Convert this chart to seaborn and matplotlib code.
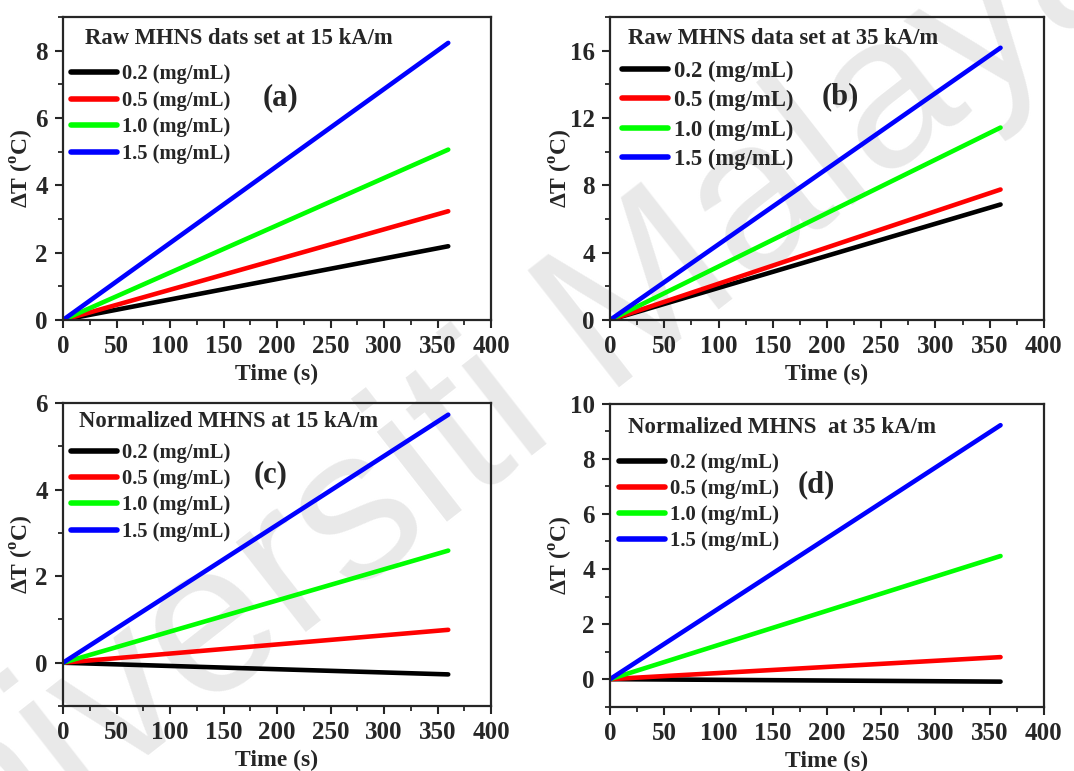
import pandas as pd
import seaborn as sns
import matplotlib
matplotlib.use("Agg")
import matplotlib.pyplot as plt
from matplotlib.ticker import MultipleLocator

# data
time_s = [0, 360]
concentrations = ["0.2 (mg/mL)", "0.5 (mg/mL)", "1.0 (mg/mL)", "1.5 (mg/mL)"]
colors = ["#000000", "#ff0000", "#00ff00", "#0000ff"]

raw_15_end = [2.19, 3.23, 5.06, 8.23]
raw_35_end = [6.86, 7.75, 11.43, 16.17]
norm_15_end = [-0.27, 0.76, 2.59, 5.73]
norm_35_end = [-0.09, 0.80, 4.47, 9.22]

titles = ["Raw MHNS dats set at 15 kA/m", "Raw MHNS data set at 35 kA/m",
          "Normalized MHNS at 15 kA/m", "Normalized MHNS  at 35 kA/m"]
panel_labels = ["(a)", "(b)", "(c)", "(d)"]
y_limits = [(0, 9), (0, 18), (-1, 6), (-1, 10)]
y_major = [2, 4, 2, 2]


def make_df(ends):
    rows = []
    for c, e in zip(concentrations, ends):
        rows.append([time_s[0], 0.0, c])
        rows.append([time_s[1], e, c])
    return pd.DataFrame(rows, columns=["time", "dT", "conc"])


sns.set_style("ticks")
plt.rcParams['font.family'] = ['Liberation Serif', 'DejaVu Serif']
plt.rcParams['font.weight'] = 'bold'
plt.rcParams['mathtext.fontset'] = 'custom'
plt.rcParams['mathtext.rm'] = 'Liberation Serif:bold'
plt.rcParams['mathtext.bf'] = 'Liberation Serif:bold'

fig = plt.figure(figsize=(10.74, 7.71), dpi=100)

# watermark
fig.text(0.44, 0.44, "Universiti Malaya", rotation=38, ha="center", va="center",
         fontsize=155, color="#e9e9e9", family="Liberation Sans", weight="normal",
         zorder=-1)

positions = [[0.0587, 0.585, 0.3985, 0.393], [0.568, 0.585, 0.404, 0.393],
             [0.0587, 0.0843, 0.3985, 0.393], [0.568, 0.0834, 0.404, 0.393]]
title_pos = [(0.051, 0.928), (0.041, 0.93), (0.038, 0.938), (0.042, 0.922)]
title_size = [16.3, 16.3, 16.3, 16.5]
label_pos = [(0.507, 0.733), (0.53, 0.737), (0.484, 0.762), (0.476, 0.733)]
legend_pos = [(0.018, 0.845), (0.028, 0.855), (0.019, 0.869), (0.021, 0.838)]
legend_size = [14.8, 16.3, 14.8, 14.9]
legend_space = [0.33, 0.36, 0.31, 0.30]
ylabel_x = [-0.064, -0.081, -0.063, -0.081]
datasets = [raw_15_end, raw_35_end, norm_15_end, norm_35_end]

for i in range(4):
    ax = fig.add_axes(positions[i])
    ax.set_facecolor("none")
    df = make_df(datasets[i])
    sns.lineplot(data=df, x="time", y="dT", hue="conc", palette=colors,
                 linewidth=3.3, ax=ax, legend=True)
    ax.set_xlim(0, 400)
    ax.set_ylim(*y_limits[i])
    ax.xaxis.set_major_locator(MultipleLocator(50))
    ax.xaxis.set_minor_locator(MultipleLocator(25))
    ax.yaxis.set_major_locator(MultipleLocator(y_major[i]))
    ax.yaxis.set_minor_locator(MultipleLocator(y_major[i] / 2))
    ax.tick_params(which="major", length=6, width=1.5, labelsize=18, pad=5)
    ax.tick_params(which="minor", length=3.5, width=1.3)
    for s in ax.spines.values():
        s.set_linewidth(1.6)
    ax.set_xlabel("Time (s)", fontsize=17, fontweight="bold")
    ax.set_ylabel(r"$\Delta$T ($^{\rm o}$C)", fontsize=17, fontweight="bold")
    ax.xaxis.set_label_coords(0.5, -0.146)
    ax.yaxis.set_label_coords(ylabel_x[i], 0.5)
    ax.text(title_pos[i][0], title_pos[i][1], titles[i], transform=ax.transAxes,
            fontsize=title_size[i], fontweight="bold", ha="left", va="center")
    ax.text(label_pos[i][0], label_pos[i][1], panel_labels[i], transform=ax.transAxes,
            fontsize=22, fontweight="bold", ha="center", va="center")
    fs = legend_size[i]
    leg = ax.legend(loc="upper left", bbox_to_anchor=legend_pos[i], frameon=False,
                    fontsize=fs, handlelength=46 / (fs * 100 / 72),
                    handletextpad=0.25, labelspacing=legend_space[i],
                    borderpad=0, borderaxespad=0)
    for h in leg.get_lines():
        h.set_linewidth(4)

fig.savefig("out.png", dpi=100)
